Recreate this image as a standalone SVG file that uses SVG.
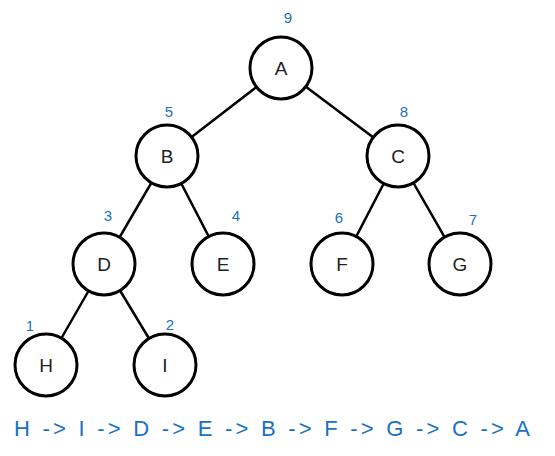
<svg xmlns="http://www.w3.org/2000/svg" width="555" height="456" viewBox="0 0 555 456">
<style>
.node circle{fill:#fff;stroke:#000;stroke-width:3}
.node text{font-family:"Liberation Sans",sans-serif;font-size:19px;fill:#222;text-anchor:middle;dominant-baseline:central}
.num{font-family:"Liberation Sans",sans-serif;font-size:15px;fill:#1971c2;text-anchor:middle}
#edges line{stroke:#000;stroke-width:2.5;stroke-linecap:round}
.seq{font-family:"Liberation Sans",sans-serif;font-size:22px;fill:#1971c2}
</style>
<rect width="555" height="456" fill="#fff"/>
<g id="edges">
<line x1="281" y1="68" x2="167" y2="156"/>
<line x1="281" y1="68" x2="398" y2="156"/>
<line x1="167" y1="156" x2="104" y2="264"/>
<line x1="167" y1="156" x2="223" y2="264"/>
<line x1="398" y1="156" x2="342" y2="264"/>
<line x1="398" y1="156" x2="460" y2="264"/>
<line x1="104" y1="264" x2="46" y2="365"/>
<line x1="104" y1="264" x2="165" y2="365"/>
</g>
<g id="A" class="node"><circle cx="281" cy="68" r="31"/><text x="281" y="68">A</text></g>
<g id="B" class="node"><circle cx="167" cy="156" r="31"/><text x="167" y="156">B</text></g>
<g id="C" class="node"><circle cx="398" cy="156" r="31"/><text x="398" y="156">C</text></g>
<g id="D" class="node"><circle cx="104" cy="264" r="31"/><text x="104" y="264">D</text></g>
<g id="E" class="node"><circle cx="223" cy="264" r="31"/><text x="223" y="264">E</text></g>
<g id="F" class="node"><circle cx="342" cy="264" r="31"/><text x="342" y="264">F</text></g>
<g id="G" class="node"><circle cx="460" cy="264" r="31"/><text x="460" y="264">G</text></g>
<g id="H" class="node"><circle cx="46" cy="365" r="31"/><text x="46" y="365">H</text></g>
<g id="I" class="node"><circle cx="165" cy="365" r="31"/><text x="165" y="365">I</text></g>
<g id="labels">
<text class="num" x="288" y="23">9</text>
<text class="num" x="169" y="117">5</text>
<text class="num" x="404" y="117">8</text>
<text class="num" x="108" y="221">3</text>
<text class="num" x="236" y="221">4</text>
<text class="num" x="339" y="223">6</text>
<text class="num" x="473" y="225">7</text>
<text class="num" x="30" y="331">1</text>
<text class="num" x="170" y="330">2</text>
</g>
<text class="seq" x="14" y="436" textLength="516" lengthAdjust="spacing">H -&gt; I -&gt; D -&gt; E -&gt; B -&gt; F -&gt; G -&gt; C -&gt; A</text>
</svg>
